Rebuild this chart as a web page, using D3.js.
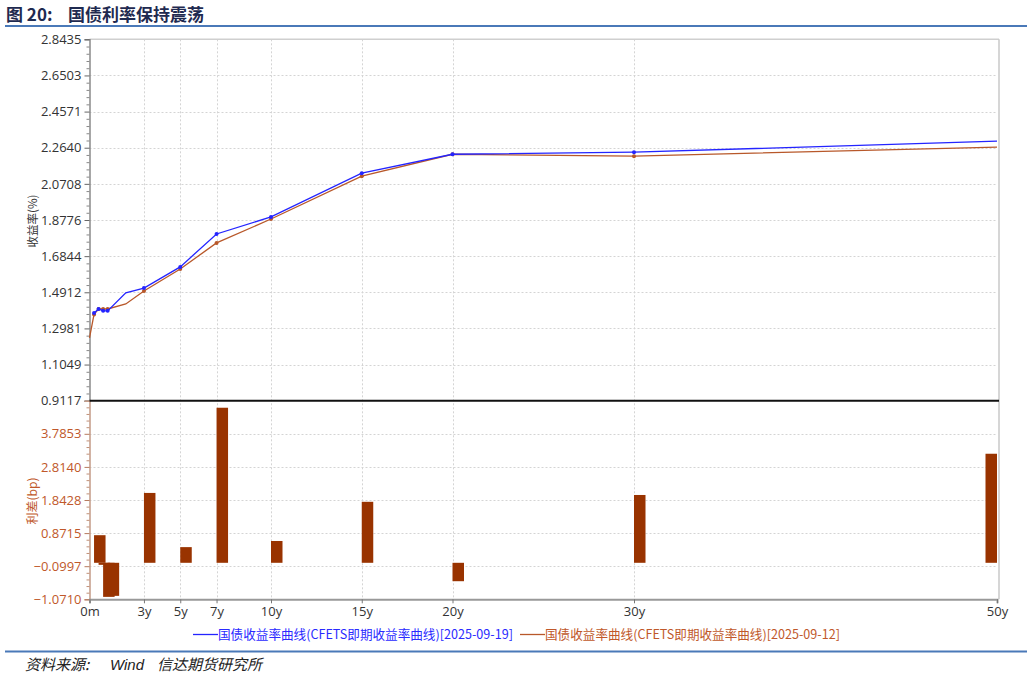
<!DOCTYPE html>
<meta charset="utf-8">
<html>
<head>
<style>
  body { margin: 0; background: #fff; }
  text { font-family: "Noto Sans CJK SC", "Noto Sans", sans-serif; }
</style>
</head>
<body>
<script src="https://cdn.jsdelivr.net/npm/d3@7"></script>
<div id="my_dataviz"></div>
</body>

<script>

    // tenors in years, 0m .. 50y
    var tenors = [0, 0.25, 0.5, 0.75, 1, 2, 3, 5, 7, 10, 15, 20, 30, 50];
    // 2025-09-19 curve (%), no value at 0m
    var curve0919 = [null, 1.381, 1.402, 1.392, 1.392, 1.488, 1.514, 1.627, 1.803, 1.894, 2.128, 2.229, 2.240, 2.299];
    // 2025-09-12 curve (%)
    var curve0912 = [1.248, 1.373, 1.402, 1.402, 1.402, 1.429, 1.498, 1.616, 1.755, 1.883, 2.112, 2.229, 2.219, 2.267];
    // markers drawn on these tenors
    var markerTenors = [0.25, 0.5, 0.75, 1, 3, 5, 7, 10, 15, 20, 30];

    // spread bars (bp)
    var spreadTenors = [0.25, 0.5, 0.75, 1, 3, 5, 7, 10, 15, 20, 30, 50];
    var spreadValues = [0.81, -0.06, -1.00, -0.97, 2.05, 0.46, 4.55, 0.64, 1.79, -0.54, 1.99, 3.20];

    // axis ticks
    var xTickValues = [0, 3, 5, 7, 10, 15, 20, 30, 50];
    var xTickLabels = ["0m", "3y", "5y", "7y", "10y", "15y", "20y", "30y", "50y"];
    var yTicks = [0.9117, 1.1049, 1.2981, 1.4912, 1.6844, 1.8776, 2.0708, 2.2640, 2.4571, 2.6503, 2.8435];
    var y2Ticks = [-1.0710, -0.0997, 0.8715, 1.8428, 2.8140, 3.7853];

    var legendNames = ["国债收益率曲线(CFETS即期收益率曲线)[2025-09-19]", "国债收益率曲线(CFETS即期收益率曲线)[2025-09-12]"];

    var W = 1032, H = 678;
    var pLeft = 89.5, pRight = 997, pTop = 39.3, pMid = 400.7, pBottom = 599.3;
    var blue = "#2424ff", orange = "#b8582a", barColor = "#993300", brown = "#c0582a";

    var svg = d3.select("#my_dataviz")
      .append("svg")
        .attr("width", W)
        .attr("height", H);

    // title + rule
    var title = svg.append("g").style("font-size", "17px").style("font-weight", "bold").attr("fill", "#1f2a50");
    title.append("text").attr("x", 6).attr("y", 21).text("图 20:");
    title.append("text").attr("x", 68).attr("y", 21).text("国债利率保持震荡");
    svg.append("line")
        .attr("x1", 5).attr("x2", 1027).attr("y1", 26).attr("y2", 26)
        .attr("stroke", "#4a79b8").attr("stroke-width", 2);

    // scales
    var x = d3.scaleLinear().domain([0, 50]).range([pLeft, pRight]);
    var y = d3.scaleLinear().domain([0.9117, 2.8435]).range([pMid, pTop]);
    var y2 = d3.scaleLinear().domain([-1.0710, -1.0710 + 0.97125 * 6]).range([pBottom, pMid]);

    // grid
    var grid = svg.append("g")
        .attr("stroke", "#d4d4d4").attr("stroke-dasharray", "2,2").attr("stroke-width", 1);
    yTicks.slice(1).forEach(function(t) {
      grid.append("line").attr("x1", pLeft).attr("x2", pRight)
        .attr("y1", Math.round(y(t)) + 0.5).attr("y2", Math.round(y(t)) + 0.5);
    });
    y2Ticks.slice(1).forEach(function(t) {
      grid.append("line").attr("x1", pLeft).attr("x2", pRight)
        .attr("y1", Math.round(y2(t)) + 0.5).attr("y2", Math.round(y2(t)) + 0.5);
    });
    xTickValues.slice(1, -1).forEach(function(t) {
      grid.append("line").attr("x1", Math.round(x(t)) + 0.5).attr("x2", Math.round(x(t)) + 0.5)
        .attr("y1", pTop).attr("y2", pBottom);
    });

    // frame top and right
    svg.append("line").attr("x1", pLeft).attr("x2", pRight + 2).attr("y1", pTop).attr("y2", pTop)
        .attr("stroke", "#cfcfcf").attr("stroke-width", 1.5);
    svg.append("line").attr("x1", pRight + 2).attr("x2", pRight + 2).attr("y1", pTop).attr("y2", pBottom)
        .attr("stroke", "#c8c8c8").attr("stroke-width", 1.5);

    // upper y axis with minor ticks
    function minorTicks(ticks) {
      var out = [];
      for (var i = 0; i < ticks.length - 1; i++) {
        for (var k = 1; k < 5; k++) out.push(ticks[i] + (ticks[i + 1] - ticks[i]) * k / 5);
      }
      return out;
    }
    var yAxisG = svg.append("g")
        .attr("transform", "translate(" + pLeft + ",0)")
        .call(d3.axisLeft(y).tickValues(yTicks).tickFormat(d3.format(".4f")).tickSize(5).tickPadding(3));
    yAxisG.select(".domain").attr("stroke", "#8a8a8a").attr("stroke-width", 1.5);
    yAxisG.selectAll(".tick line").attr("stroke", "#666");
    yAxisG.selectAll("text").style("font-size", "13px").attr("fill", "#333")
        .style("font-family", "'Open Sans', sans-serif");
    svg.append("g")
        .attr("transform", "translate(" + pLeft + ",0)")
        .call(d3.axisLeft(y).tickValues(minorTicks(yTicks)).tickFormat("").tickSize(3))
        .call(function(g) { g.select(".domain").remove(); g.selectAll("line").attr("stroke", "#888"); });

    // lower y axis
    var y2AxisG = svg.append("g")
        .attr("transform", "translate(" + pLeft + ",0)")
        .call(d3.axisLeft(y2).tickValues(y2Ticks).tickFormat(d3.format(".4f")).tickSize(5).tickPadding(3));
    y2AxisG.select(".domain").attr("stroke", "#c49a86").attr("stroke-width", 1.5);
    y2AxisG.selectAll(".tick line").attr("stroke", "#b77a5e");
    y2AxisG.selectAll("text").style("font-size", "13px").attr("fill", brown)
        .style("font-family", "'Open Sans', sans-serif");
    var y2Minor = minorTicks(y2Ticks.concat([y2Ticks[5] + 0.97125]));
    svg.append("g")
        .attr("transform", "translate(" + pLeft + ",0)")
        .call(d3.axisLeft(y2).tickValues(y2Minor).tickFormat("").tickSize(3))
        .call(function(g) { g.select(".domain").remove(); g.selectAll("line").attr("stroke", "#c09078"); });

    // axis titles
    svg.append("text")
        .attr("transform", "translate(37,221) rotate(-90)")
        .attr("text-anchor", "middle").style("font-size", "11.5px").attr("fill", "#333")
        .text("收益率(%)");
    svg.append("text")
        .attr("transform", "translate(37,501) rotate(-90)")
        .attr("text-anchor", "middle").style("font-size", "12px").attr("fill", brown)
        .text("利差(bp)");

    // x axis
    var xAxisG = svg.append("g")
        .attr("transform", "translate(0," + pBottom + ")")
        .call(d3.axisBottom(x).tickValues(xTickValues)
          .tickFormat(function(d, i) { return xTickLabels[i]; }).tickSize(4).tickPadding(3));
    xAxisG.select(".domain").attr("stroke", "#999").attr("stroke-width", 2);
    xAxisG.selectAll(".tick line").attr("stroke", "#777");
    xAxisG.selectAll("text").style("font-size", "13px").attr("fill", "#333")
        .style("font-family", "'Open Sans', sans-serif");

    // spread bars
    var barW = 11.5;
    svg.selectAll("rect.bar")
        .data(spreadTenors)
        .enter()
        .append("rect")
          .attr("class", "bar")
          .attr("x", function(d) { return Math.min(x(d), pRight - barW); })
          .attr("width", barW)
          .attr("y", function(d, i) { return Math.min(y2(spreadValues[i]), y2(0)); })
          .attr("height", function(d, i) { return Math.abs(y2(spreadValues[i]) - y2(0)); })
          .attr("fill", barColor);

    // separator between panels
    svg.append("line").attr("x1", pLeft).attr("x2", pRight + 2).attr("y1", pMid).attr("y2", pMid)
        .attr("stroke", "#111").attr("stroke-width", 2);

    // curves
    function drawCurve(values, color) {
      var pts = tenors.map(function(t, i) { return [t, values[i]]; });
      var line = d3.line()
          .defined(function(d) { return d[1] !== null; })
          .x(function(d) { return x(d[0]); })
          .y(function(d) { return y(d[1]); });
      svg.append("path").datum(pts)
          .attr("d", line).attr("fill", "none")
          .attr("stroke", color).attr("stroke-width", 1.3);
      svg.selectAll(null)
          .data(pts.filter(function(d) { return d[1] !== null && markerTenors.indexOf(d[0]) >= 0; }))
          .enter()
          .append("circle")
            .attr("cx", function(d) { return x(d[0]); })
            .attr("cy", function(d) { return y(d[1]); })
            .attr("r", 2)
            .attr("fill", color);
    }
    drawCurve(curve0912, orange);
    drawCurve(curve0919, blue);

    // legend
    var legendX = [193, 520], legendColors = [blue, orange], legendText = ["#2a2aff", brown];
    legendNames.forEach(function(name, i) {
      svg.append("line").attr("x1", legendX[i]).attr("x2", legendX[i] + 25)
        .attr("y1", 634.5).attr("y2", 634.5).attr("stroke", legendColors[i]).attr("stroke-width", 1.3);
      svg.append("text").attr("x", legendX[i] + 25).attr("y", 639)
        .style("font-size", "12.6px").attr("fill", legendText[i]).text(name);
    });

    // source footer
    svg.append("line")
        .attr("x1", 5).attr("x2", 1027).attr("y1", 651.5).attr("y2", 651.5)
        .attr("stroke", "#4a79b8").attr("stroke-width", 2);
    var footer = svg.append("g").style("font-size", "15px").style("font-style", "italic").attr("fill", "#222");
    footer.append("text").attr("x", 25).attr("y", 670).text("资料来源:");
    footer.append("text").attr("x", 110).attr("y", 670).style("font-family", "'Liberation Sans', sans-serif").text("Wind");
    footer.append("text").attr("x", 157).attr("y", 670).text("信达期货研究所");

</script>

</html>
